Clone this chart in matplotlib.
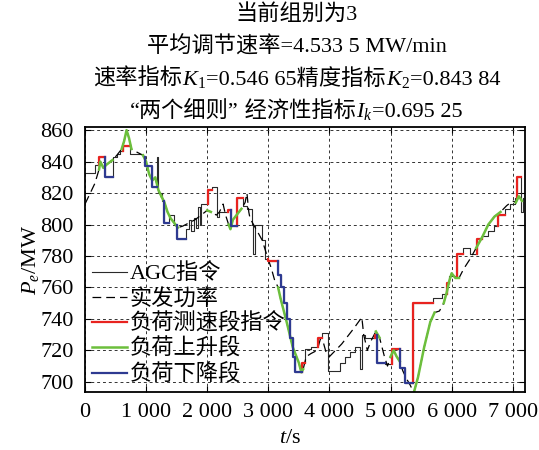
import matplotlib

matplotlib.use("Agg")
import matplotlib.pyplot as plt
import numpy as np
from matplotlib.lines import Line2D
from matplotlib.offsetbox import AnchoredOffsetbox, HPacker, TextArea, VPacker

# AGC set-point (step signal), t in s, P in MW
agc_t = [0, 170, 230, 330, 450, 520, 570, 620, 740, 950, 980, 1100, 1170, 1200,
         1260, 1300, 1380, 1450, 1500, 1660, 1700, 1740, 1780, 1820, 1850, 1880,
         1900, 2010, 2080, 2160, 2200, 2340, 2390, 2490, 2590, 2650, 2730, 2750,
         2780, 2900, 2950, 3000, 3160, 3200, 3250, 3300, 3350, 3400, 3440, 3550,
         3600, 3700, 3810, 3880, 3980, 4170, 4250, 4330, 4420, 4500, 4530, 4580,
         4740, 4780, 4910, 5020, 5160, 5240, 5370, 5700, 5840, 5925, 5950, 6090,
         6190, 6300, 6410, 6500, 6600, 6700, 6750, 6880, 6960, 7030, 7070, 7130,
         7160]
agc_p = [833, 838, 843, 830, 843, 845, 847, 850, 845, 843, 837, 824, 843, 820,
         815, 801, 806, 800, 791, 797, 803, 796, 804, 798, 811, 800,
         813, 822, 824, 805, 808, 809, 799, 817, 812, 810, 800, 781,
         800, 790, 778, 777, 768, 760, 750, 740, 728, 716, 706, 712,
         721, 722, 728, 731, 707, 712, 716, 719, 722, 708, 730, 728,
         730, 712, 711, 721, 709, 699, 750, 753, 756, 763, 767, 781,
         785, 781, 791, 793, 796, 799, 806, 810, 813, 817, 830, 808,
         817]

# measured unit output
act_t = [0, 160, 230, 250, 300, 350, 450, 520, 600, 640, 680, 720, 760, 850, 950,
         1000, 1050, 1100, 1150, 1200, 1250, 1300, 1350, 1400, 1480, 1520, 1600,
         1700, 1800, 1900, 2000, 2060, 2150, 2200, 2260, 2300, 2350, 2380, 2420,
         2500, 2560, 2620, 2650, 2680, 2700, 2800, 2900, 2980, 3050, 3100, 3160,
         3200, 3300, 3400, 3440, 3500, 3540, 3570, 3620, 3700, 3800, 3850, 3900,
         3950, 4000, 4200, 4400, 4530, 4560, 4620, 4680, 4760, 4820, 4900, 4950,
         5000, 5050, 5100, 5150, 5200, 5260, 5320, 5380, 5450, 5550, 5650, 5720,
         5800, 5870, 5920, 5960, 6000, 6060, 6120, 6200, 6300, 6400, 6500, 6600,
         6700, 6800, 6900, 7000, 7050, 7100, 7150]
act_p = [813, 826, 835, 840, 836, 838, 841, 844, 848, 853, 860, 855, 848, 846, 844,
         840, 832, 828, 830, 822, 818, 814, 808, 804, 800, 798, 799,
         801, 803, 806, 809, 808, 806, 808, 813, 806, 800, 797, 803,
         807, 810, 814, 820, 808, 804, 797, 790, 780, 772, 765, 760,
         753, 738, 722, 718, 712, 706, 708, 716, 718, 720, 727, 725,
         718, 716, 724, 734, 741, 730, 720, 726, 732, 728, 716, 710,
         716, 720, 716, 713, 707, 702, 698, 693, 703, 722, 738, 744,
         745, 750, 757, 764, 769, 766, 766, 772, 778, 785, 792, 800,
         805, 808, 812, 815, 814, 818, 815]

# time windows of the special segments
speed_test_windows = [(230, 330), (620, 740), (2010, 2080), (2340, 2390), (2490, 2590),
                      (3000, 3160), (3550, 3600), (3810, 3880), (4740, 4780),
                      (5020, 5160), (5370, 5700), (5925, 5950), (6090, 6190),
                      (6410, 6500), (6750, 6880), (7070, 7130)]
rise_windows = [(230, 450), (600, 760), (950, 1250), (1250, 1560), (2000, 2060),
                (2330, 2560), (3150, 3580), (4700, 4820), (4980, 5160),
                (5370, 5720), (5870, 6130), (6380, 6800), (7050, 7150)]
fall_windows = [(330, 450), (980, 1170), (1300, 1380), (1500, 1660), (2390, 2490),
                (3160, 3550), (4780, 4910), (5160, 5370)]

xticks = [0, 1000, 2000, 3000, 4000, 5000, 6000, 7000]
xtick_labels = ["0", "1 000", "2 000", "3 000", "4 000", "5 000", "6 000", "7 000"]
yticks = [700, 720, 740, 760, 780, 800, 820, 840, 860]

title_rate = "平均调节速率=4.533 5 MW/min"
k1, k2, ik = "0.546 65", "0.843 84", "0.695 25"

FONT = ["Liberation Serif", "Noto Sans CJK SC"]
FS = 16

plt.rcParams["font.family"] = FONT
plt.rcParams["mathtext.fontset"] = "custom"
plt.rcParams["mathtext.rm"] = "Liberation Serif"
plt.rcParams["mathtext.it"] = "Liberation Serif:italic"


def step_piece(t, p, a, b):
    """Cut the step signal between a and b, keeping the leading edge."""
    t = np.asarray(t)
    p = np.asarray(p)
    i = np.searchsorted(t, a)
    k = np.searchsorted(t, b)
    seg_t = np.concatenate([[t[i]], t[i:k], [t[k]]])
    seg_p = np.concatenate([[p[i - 1]], p[i:k], [p[k - 1]]])
    return seg_t, seg_p


def line_piece(t, p, a, b):
    t = np.asarray(t)
    p = np.asarray(p)
    mask = (t >= a) & (t <= b)
    return t[mask], p[mask]


fig = plt.figure(figsize=(5.39, 4.5), dpi=100)
ax = fig.add_axes([85 / 539, 1 - 392 / 450, 440 / 539, 265 / 450])

black_kw = dict(color="#2a2a2a", lw=0.8)
dash_kw = dict(color="black", lw=0.9, linestyle=(0, (7, 4)))
red_kw = dict(color="#e8231f", lw=1.6)
green_kw = dict(color="#6cbf3c", lw=1.8)
blue_kw = dict(color="#2e3a91", lw=1.6)

ax.plot(agc_t, agc_p, drawstyle="steps-post", **black_kw)
ax.plot(act_t, act_p, **dash_kw)
for a, b in speed_test_windows:
    st, sp = step_piece(agc_t, agc_p, a, b)
    ax.plot(st, sp, drawstyle="steps-post", **red_kw)
for a, b in rise_windows:
    lt, lp = line_piece(act_t, act_p, a, b)
    ax.plot(lt, lp, **green_kw)
for a, b in fall_windows:
    st, sp = step_piece(agc_t, agc_p, a, b)
    ax.plot(st, sp, drawstyle="steps-post", **blue_kw)

ax.set_xlim(0, 7200)
ax.set_ylim(693.5, 862)
ax.set_xticks(xticks)
ax.set_xticklabels(xtick_labels)
ax.set_yticks(yticks)
ax.tick_params(direction="in", top=True, right=True, length=4, width=0.8,
               labelsize=FS, pad=8)
ax.grid(True, color="0.2", lw=0.7, linestyle=(0, (3, 3)))
for spine in ax.spines.values():
    spine.set_linewidth(1.3)

ax.set_xlabel("$t$/s", fontsize=FS)
ax.xaxis.set_label_coords(0.466, -0.14)
ax.set_ylabel("$P_e$/MW", fontsize=FS)
ax.yaxis.set_label_coords(-0.10, 0.5)

handles = [Line2D([], [], **black_kw), Line2D([], [], **dash_kw),
           Line2D([], [], **red_kw), Line2D([], [], **green_kw),
           Line2D([], [], **blue_kw)]
labels = ["AGC指令", "实发功率", "负荷测速段指令", "负荷上升段", "负荷下降段"]
ax.legend(handles, labels, loc="lower left", bbox_to_anchor=(0.0, 0.0),
          frameon=False, fontsize=FS, handlelength=1.6, handletextpad=0.1,
          labelspacing=0.18, borderaxespad=0.1, borderpad=0.2)


def txt(s):
    return TextArea(s, textprops=dict(fontsize=FS, family=FONT))


def row(parts):
    return HPacker(children=[txt(s) for s in parts], align="baseline", pad=0, sep=0)


rows = [
    txt("当前组别为3"),
    txt(title_rate),
    row(["速率指标", "$K_1$", "=" + k1 + "精度指标", "$K_2$", "=" + k2]),
    row(["“两个细则”", " 经济性指标", "$I_k$", "=" + ik]),
]
title_box = VPacker(children=rows, align="center", pad=0, sep=8)
anchored = AnchoredOffsetbox(loc="upper center", child=title_box, pad=0, borderpad=0,
                             frameon=False, bbox_to_anchor=(0.55, 0.99),
                             bbox_transform=fig.transFigure)
fig.add_artist(anchored)

fig.savefig("out.png", dpi=100)
